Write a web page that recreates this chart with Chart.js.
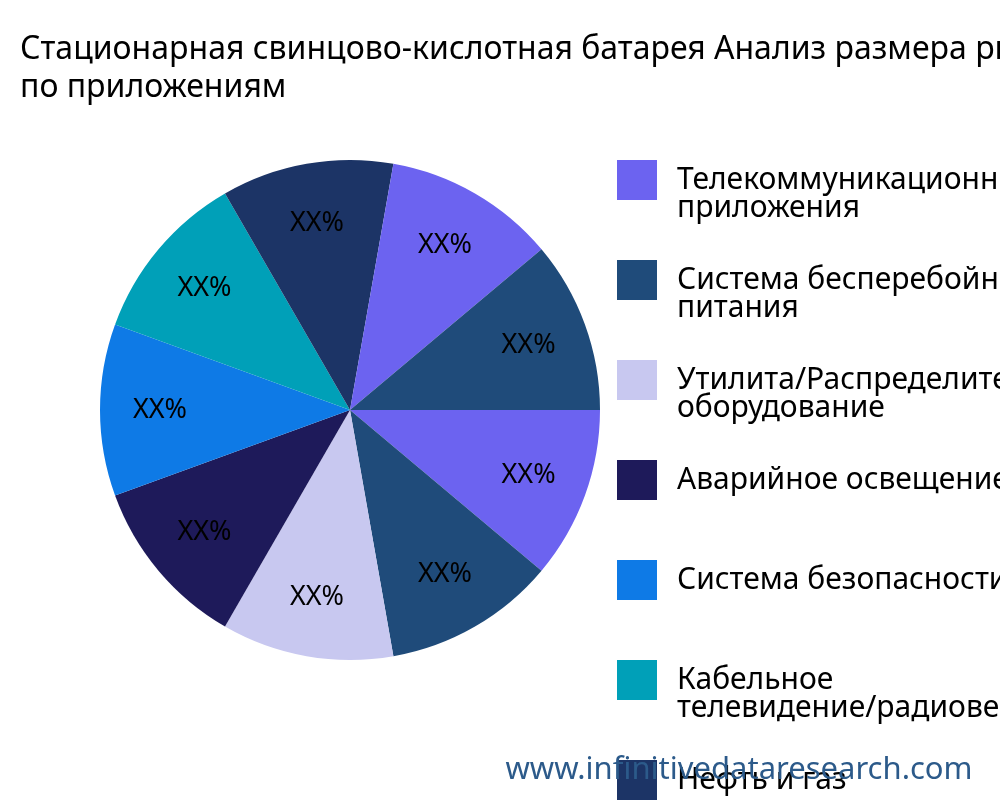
<!DOCTYPE html>
<html>
<head>
<meta charset="utf-8">
<script src="https://cdn.jsdelivr.net/npm/chart.js@4"></script>
<style>
  body { margin: 0; background: #fff; }
  #wrap { width: 1000px; height: 800px; }
</style>
</head>
<body>
<div id="wrap"><canvas id="chart" width="1000" height="800"></canvas></div>
<script>
const titleLines = ['Стационарная свинцово-кислотная батарея Анализ размера рынка', 'по приложениям'];
const labels = [
    ['Телекоммуникационные', 'приложения'],
    ['Система бесперебойного', 'питания'],
    ['Утилита/Распределительное', 'оборудование'],
    ['Аварийное освещение'],
    ['Система безопасности'],
    ['Кабельное', 'телевидение/радиовещание'],
    ['Нефть и газ'],
    ['Хранение энергии'],
    ['Другие']
];
const values = [1, 1, 1, 1, 1, 1, 1, 1, 1];
const sliceLabels = ['XX%', 'XX%', 'XX%', 'XX%', 'XX%', 'XX%', 'XX%', 'XX%', 'XX%'];
const palette = ['#6c63f0', '#1f4b7a', '#c8c8f0', '#1e1a5a', '#0e7ae6', '#00a0b8', '#1c3466'];
const colors = values.map((v, i) => palette[i % palette.length]);

const FONT = '"Noto Sans", "Open Sans", sans-serif';

const sliceText = {
    id: 'sliceText',
    afterDatasetsDraw(chart) {
        const ctx = chart.ctx;
        ctx.save();
        ctx.font = '27px ' + FONT;
        ctx.fillStyle = '#000';
        ctx.textAlign = 'center';
        ctx.textBaseline = 'middle';
        chart.getDatasetMeta(0).data.forEach((arc, i) => {
            const p = arc.getProps(['x', 'y', 'startAngle', 'endAngle', 'outerRadius']);
            const a = (p.startAngle + p.endAngle) / 2;
            const r = p.outerRadius * 0.76;
            ctx.fillText(sliceLabels[i], p.x + Math.cos(a) * r, p.y + Math.sin(a) * r);
        });
        ctx.restore();
    }
};

const extras = {
    id: 'extras',
    afterDraw(chart) {
        const ctx = chart.ctx;
        ctx.save();
        ctx.textBaseline = 'middle';
        ctx.fillStyle = '#000';
        ctx.font = '32px ' + FONT;
        titleLines.forEach((line, j) => ctx.fillText(line, 20, 50 + j * 38));

        ctx.font = '30px ' + FONT;
        chart.data.labels.forEach((lab, i) => {
            const y = 160 + i * 100;
            ctx.fillStyle = colors[i];
            ctx.fillRect(617, y, 40, 40);
            ctx.fillStyle = '#000';
            lab.forEach((line, j) => ctx.fillText(line, 677, y + 20 + j * 28));
        });
        ctx.font = '31px ' + FONT;
        ctx.fillStyle = '#2c5a8a';
        ctx.textAlign = 'center';
        ctx.fillText('www.infinitivedataresearch.com', 739, 770);
        ctx.restore();
    }
};

new Chart(document.getElementById('chart'), {
    type: 'pie',
    data: {
        labels,
        datasets: [{
            data: values,
            backgroundColor: colors,
            borderWidth: 0
        }]
    },
    options: {
        responsive: false,
        animation: false,
        rotation: 90,
        layout: { padding: { left: 100, right: 400, top: 120, bottom: 100 } },
        plugins: {
            legend: { display: false },
            tooltip: { enabled: false },
            title: { display: false }
        }
    },
    plugins: [sliceText, extras]
});
</script>
</body>
</html>
